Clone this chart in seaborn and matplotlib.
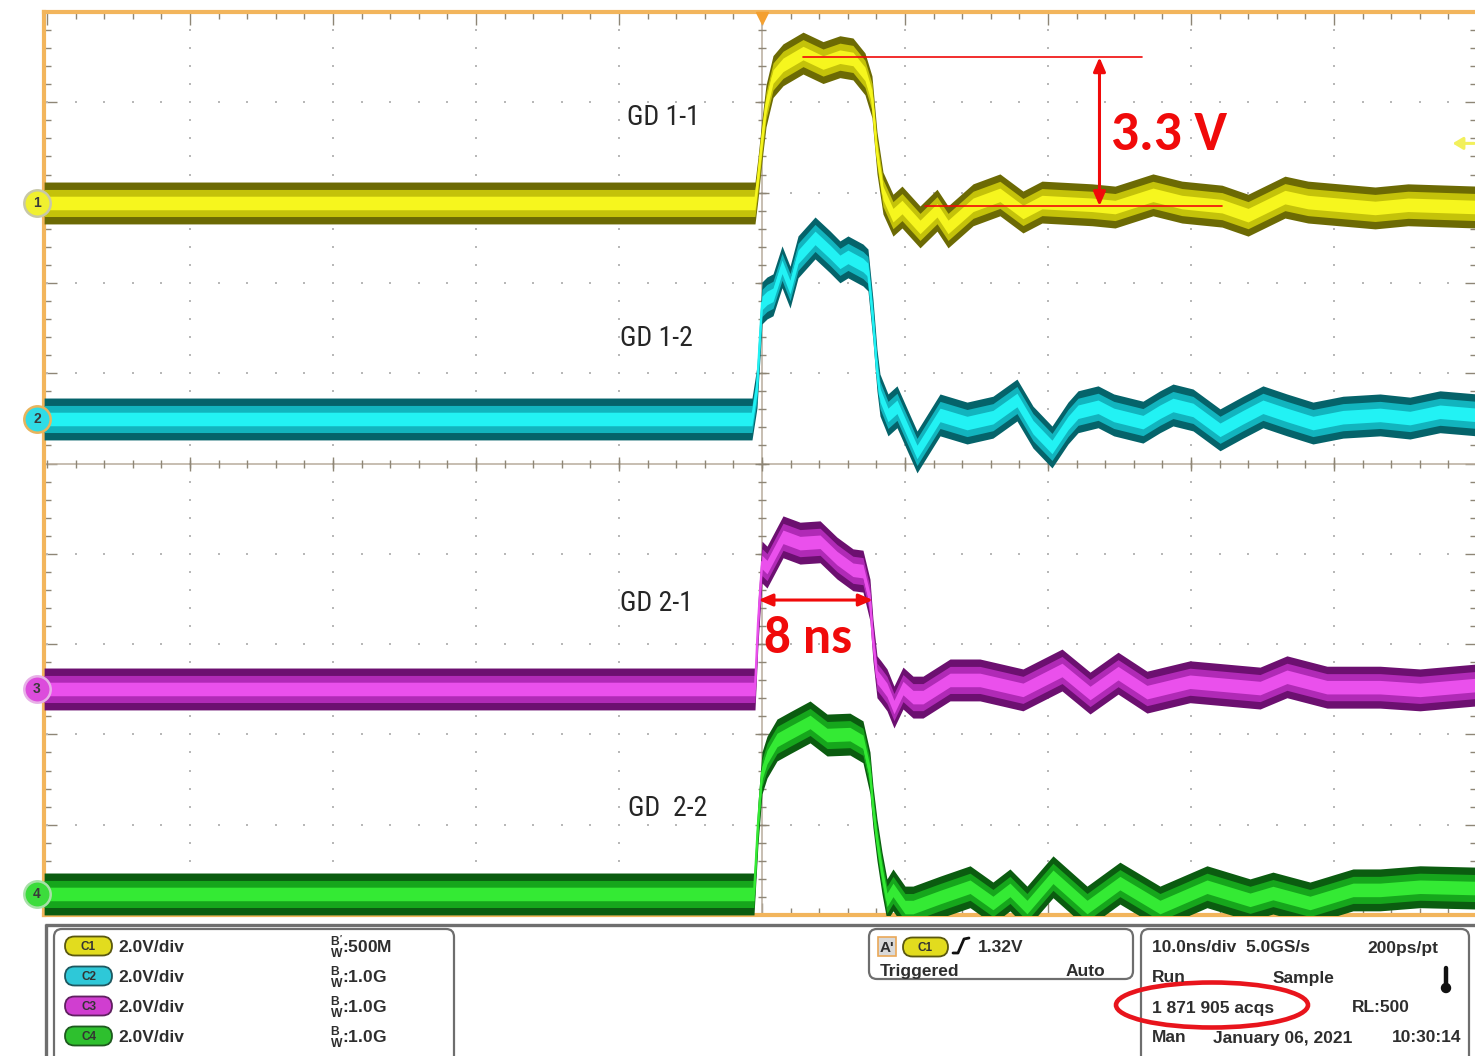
import numpy as np
import pandas as pd
import matplotlib
matplotlib.use("Agg")
import matplotlib.pyplot as plt
from matplotlib.font_manager import FontProperties, findfont
from matplotlib.patches import FancyBboxPatch, Ellipse, Circle
import seaborn as sns

# ---- four gate-drive channels: time in ns from trigger, level in volts above channel ground
ch1_t = [-50.2, -0.70, -0.49, -0.28, 0.0, 0.28, 0.77, 1.47, 2.87, 4.27, 5.45, 6.36, 7.20, 7.69,
         8.04, 8.46, 9.16, 9.79, 11.05, 12.24, 13.01, 14.76, 16.64, 18.25, 19.58, 23.08, 24.69,
         27.34, 29.37, 32.17, 33.99, 36.57, 38.18, 42.87, 45.17, 50.0]
ch1_v = [0.0, 0.0, 0.0, 0.55, 1.40, 2.15, 2.80, 3.06, 3.32, 3.11, 3.24, 3.19, 2.86, 2.35,
         1.11, 0.22, -0.27, -0.09, -0.53, -0.16, -0.53, -0.04, 0.18, -0.20, 0.02, -0.04, -0.09,
         0.18, 0.02, -0.07, -0.27, 0.13, 0.02, -0.11, -0.04, -0.09]

ch2_t = [-50.2, -0.70, -0.35, 0.0, 0.35, 0.77, 1.40, 1.96, 2.52, 3.71, 4.76, 5.45, 6.01, 7.06,
         7.41, 7.76, 8.04, 8.25, 8.81, 9.44, 10.84, 12.45, 14.34, 16.15, 17.83, 18.95, 20.28,
         21.40, 22.10, 23.50, 24.60, 26.64, 27.83, 28.74, 30.14, 32.03, 33.64, 35.03, 36.71,
         38.53, 40.63, 43.22, 45.31, 47.41, 50.0]
ch2_v = [0.0, 0.0, 0.71, 2.57, 2.68, 2.75, 3.37, 2.92, 3.59, 4.01, 3.70, 3.48, 3.59, 3.41,
         3.30, 2.19, 1.08, 0.53, 0.09, 0.27, -0.73, 0.09, -0.09, 0.04, 0.42, -0.18, -0.62,
         -0.09, 0.16, 0.27, 0.09, -0.07, 0.16, 0.31, 0.20, -0.24, 0.04, 0.27, 0.09,
         -0.09, 0.04, 0.09, 0.02, 0.16, 0.09]

ch3_t = [-50.2, -0.49, -0.28, 0.0, 0.35, 1.47, 2.66, 4.06, 5.24, 6.36, 7.06, 7.55, 7.76, 8.04,
         8.32, 8.74, 9.23, 9.86, 10.56, 11.26, 13.15, 15.24, 18.25, 20.98, 22.94, 24.90, 26.92,
         29.93, 34.83, 36.71, 39.51, 43.22, 46.01, 50.0]
ch3_v = [0.0, 0.0, 1.46, 2.81, 2.70, 3.37, 3.23, 3.26, 2.90, 2.64, 2.61, 1.97, 1.08, 0.27,
         0.16, -0.02, -0.40, 0.02, -0.18, -0.18, 0.20, 0.20, -0.02, 0.42, -0.09, 0.35, -0.07,
         0.16, 0.02, 0.27, 0.04, 0.04, -0.02, 0.09]

ch4_t = [-50.2, -0.56, -0.28, 0.0, 0.35, 1.05, 1.96, 3.36, 4.55, 6.15, 7.06, 7.55, 7.76, 8.04,
         8.39, 8.74, 9.16, 10.0, 10.56, 12.45, 14.55, 16.15, 17.34, 18.53, 20.35, 22.73, 25.03,
         27.83, 31.12, 34.13, 35.73, 38.32, 41.33, 43.22, 46.01, 50.0]
ch4_v = [0.0, 0.0, 1.57, 2.68, 3.03, 3.41, 3.57, 3.81, 3.52, 3.54, 3.37, 2.68, 1.93, 1.20,
         0.47, -0.13, 0.09, -0.29, -0.29, -0.07, 0.16, -0.20, 0.09, -0.29, 0.38, -0.29, 0.24,
         -0.29, 0.16, -0.13, 0.02, -0.20, 0.09, 0.09, 0.16, 0.13]

channel_names = ["C1", "C2", "C3", "C4"]
trace_labels = ["GD 1-1", "GD 1-2", "GD 2-1", "GD  2-2"]
channel_offsets_div = [2.885, 0.493, -2.497, -4.767]
channel_scale = ["2.0V/div", "2.0V/div", "2.0V/div", "2.0V/div"]
channel_bw = ["500M", "1.0G", "1.0G", "1.0G"]

VOLTS_PER_DIV = 2.0
trigger_level_v = 1.32
swing_v = 3.3
swing_base_v = -0.07
pulse_width_ns = 8.0
pulse_start_ns = -0.25

# ---- styling
sns.set_theme(style="white")


def pick_font(*names):
    for n in names:
        try:
            findfont(FontProperties(family=n), fallback_to_default=False)
            return n
        except Exception:
            pass
    return "DejaVu Sans"


UI_FONT = pick_font("Liberation Sans", "Arial", "DejaVu Sans")
LABEL_FONT = pick_font("Liberation Sans Narrow", "Roboto Condensed", "Liberation Sans")
LABEL_SIZE = 20 if LABEL_FONT in ("Liberation Sans Narrow", "Roboto Condensed") else 18
NOTE_FONT = pick_font("Carlito", "Lato", "Open Sans", "DejaVu Sans")
plt.rcParams["font.family"] = [UI_FONT, "DejaVu Sans"]
plt.rcParams["mathtext.fontset"] = "custom"
plt.rcParams["mathtext.rm"] = UI_FONT + ":bold"
plt.rcParams["mathtext.bf"] = UI_FONT + ":bold"

dark_cols = ["#6C6A04", "#05636A", "#6C1070", "#0B5C10"]
mid_cols = ["#C4C20A", "#12B4BE", "#B02AB6", "#16A61C"]
core_cols = ["#F6F61E", "#22F2F4", "#EA50EC", "#34EA34"]
badge_cols = ["#F0F030", "#30DCE6", "#DC4CDC", "#3CDC3C"]
badge_edges = ["#C8C8A8", "#E8B45C", "#E8B0E8", "#A8E0A8"]
pill_cols = ["#E2DC1E", "#2EC8D8", "#D03ED0", "#2EC02E"]
pill_edges = ["#5A5810", "#1E5860", "#602060", "#1E5A1E"]
FRAME = "#F2B55C"
TICK = "#8E8676"
RED = "#F00A0A"

W, H = 1475, 1056
fig = plt.figure(figsize=(W / 100, H / 100), dpi=100)
fig.patch.set_facecolor("white")

# graticule axes: x in ns (10 ns/div), y in divisions
ax = fig.add_axes([44 / W, (H - 915) / H, 1433 / W, 903 / H])
ax.set_facecolor("white")
ax.set_xlim(-50.21, 50.0)
ax.set_ylim(-5, 5)

ax.set_xticks(np.arange(-50, 51, 10))
ax.set_xticks(np.arange(-50, 50.1, 2), minor=True)
ax.set_yticks(np.arange(-5, 5.1, 1))
ax.set_yticks(np.arange(-5, 5.01, 0.2), minor=True)
ax.tick_params(which="both", direction="in", top=True, right=True, bottom=True, left=True,
               labelbottom=False, labelleft=False, color=TICK, width=1.0)
ax.tick_params(which="major", length=9)
ax.tick_params(which="minor", length=5)
for s in ax.spines.values():
    s.set_color(FRAME)
    s.set_linewidth(3)

# dotted graticule
dot_kw = dict(s=2.4, color="#B8B8B8", marker="s", linewidths=0, zorder=1)
for gx in range(-40, 41, 10):
    if gx != 0:
        yy = np.arange(-5, 5.01, 0.2)
        ax.scatter(np.full_like(yy, gx), yy, **dot_kw)
for gy in range(-4, 5):
    if gy != 0:
        xx = np.arange(-50, 50.1, 2)
        ax.scatter(xx, np.full_like(xx, gy), **dot_kw)

# centre cross with tick marks
ax.axhline(0, color="#B8AC9C", lw=1.1, zorder=1.5)
ax.axvline(0, color="#B8AC9C", lw=1.1, zorder=1.5)
xm = np.arange(-50, 50.1, 2)
ax.plot(xm, np.zeros_like(xm), ls="none", marker="|", ms=5.5, mew=1.0, color=TICK, zorder=1.6)
xM = np.arange(-40, 41, 10)
ax.plot(xM, np.zeros_like(xM), ls="none", marker="|", ms=10, mew=1.0, color=TICK, zorder=1.6)
ym = np.arange(-5, 5.01, 0.2)
ax.plot(np.zeros_like(ym), ym, ls="none", marker="_", ms=5.5, mew=1.0, color=TICK, zorder=1.6)
yM = np.arange(-4, 5, 1)
ax.plot(np.zeros_like(yM), yM, ls="none", marker="_", ms=10, mew=1.0, color=TICK, zorder=1.6)

# persistence bands for each channel
traces = [(ch1_t, ch1_v), (ch2_t, ch2_v), (ch3_t, ch3_v), (ch4_t, ch4_v)]
frames = []
for i, (t, v) in enumerate(traces):
    t = np.asarray(t, float)
    y = channel_offsets_div[i] + np.asarray(v, float) / VOLTS_PER_DIV
    ax.fill_between(t, y - 0.232, y + 0.232, color=dark_cols[i], lw=0, zorder=3 + i * 0.1)
    ax.fill_between(t, y - 0.15, y + 0.15, color=mid_cols[i], lw=0, zorder=3.02 + i * 0.1)
    ax.fill_between(t, y - 0.075, y + 0.075, color=core_cols[i], lw=0, zorder=3.04 + i * 0.1)
    frames.append(pd.DataFrame({"t": t, "div": y, "ch": channel_names[i]}))
df = pd.concat(frames, ignore_index=True)
sns.lineplot(data=df, x="t", y="div", hue="ch", palette=dict(zip(channel_names, core_cols)),
             estimator=None, sort=False, lw=1.6, legend=False, ax=ax, zorder=3.5)
ax.set_xlabel("")
ax.set_ylabel("")

# channel ground badges on the left edge
ytrans = ax.get_yaxis_transform()
for i in range(4):
    ax.plot([-7 / 1433], [channel_offsets_div[i]], marker="o", ms=19, mfc=badge_cols[i],
            mec=badge_edges[i], mew=1.8, transform=ytrans, clip_on=False, zorder=10)
    ax.text(-7 / 1433, channel_offsets_div[i], str(i + 1), transform=ytrans, ha="center",
            va="center", fontsize=10, fontweight="bold", color="#3A3A3A", zorder=11, clip_on=False)

# trigger position and trigger level markers
ax.plot([0], [4.93], marker="v", ms=9, color="#F4A030", mec="#F4A030", clip_on=False, zorder=10)
trig_y = channel_offsets_div[0] + trigger_level_v / VOLTS_PER_DIV
ax.annotate("", xy=(48.1, trig_y), xytext=(50.0, trig_y),
            arrowprops=dict(arrowstyle="-|>,head_length=0.5,head_width=0.3", color="#F2F05C", lw=2.2),
            zorder=10, annotation_clip=False)

# 3.3 V swing measurement on GD 1-1
y_lo = channel_offsets_div[0] + swing_base_v / VOLTS_PER_DIV
y_hi = channel_offsets_div[0] + (swing_base_v + swing_v) / VOLTS_PER_DIV
ax.plot([2.87, 26.6], [y_hi, y_hi], color=RED, lw=1.2, zorder=6)
ax.plot([11.4, 32.2], [y_lo, y_lo], color=RED, lw=1.2, zorder=6)
ax.annotate("", xy=(23.6, y_hi), xytext=(23.6, y_lo),
            arrowprops=dict(arrowstyle="<|-|>,head_length=0.7,head_width=0.3", color=RED, lw=2.2,
                            shrinkA=0, shrinkB=0), zorder=6)

# 8 ns pulse width on GD 2-1
y_w = -1.512
ax.annotate("", xy=(pulse_start_ns, y_w), xytext=(pulse_start_ns + pulse_width_ns, y_w),
            arrowprops=dict(arrowstyle="<|-|>,head_length=0.7,head_width=0.3", color=RED, lw=2.2,
                            shrinkA=0, shrinkB=0), zorder=6)

# ---- overlay in pixel units for labels and the status panel
ov = fig.add_axes([0, 0, 1, 1], zorder=5)
ov.set_xlim(0, W)
ov.set_ylim(H, 0)
ov.axis("off")
ov.patch.set_alpha(0)

label_pos = [(627, 125), (620, 346), (620, 611), (628, 816)]
for lab, (x, y) in zip(trace_labels, label_pos):
    ov.text(x, y, lab, family=[LABEL_FONT, "DejaVu Sans"], fontsize=LABEL_SIZE, color="#262626",
            ha="left", va="baseline")

ov.text(1111, 150, f"{swing_v:.1f} V", family=[NOTE_FONT, "DejaVu Sans"], fontweight="bold",
        fontsize=40, color=RED, ha="left", va="baseline")
ov.text(764, 653, f"{pulse_width_ns:.0f} ns", family=[NOTE_FONT, "DejaVu Sans"], fontweight="bold",
        fontsize=38, color=RED, ha="left", va="baseline")

PANEL = "#6E6E6E"
TXT = "#2E2E2E"
ov.plot([45, W], [924.5, 924.5], color=PANEL, lw=2.4, solid_capstyle="butt")
ov.plot([45.5, 45.5], [924, H], color=PANEL, lw=2.4, solid_capstyle="butt")


def box(x, y, w, h):
    ov.add_patch(FancyBboxPatch((x, y), w, h, boxstyle="round,pad=0,rounding_size=8",
                                fc="white", ec=PANEL, lw=1.6))


def pill(x, yc, w, h, fc, ec, label):
    ov.add_patch(FancyBboxPatch((x, yc - h / 2), w, h,
                                boxstyle=f"round,pad=0,rounding_size={h / 2}",
                                fc=fc, ec=ec, lw=1.3))
    ov.text(x + w / 2, yc + 4, label, ha="center", va="baseline", fontsize=8.5,
            fontweight="bold", color="#333333")


def ui(x, y, s, **kw):
    ov.text(x, y, s, ha="left", va="baseline", fontsize=12.5, fontweight="bold", color=TXT, **kw)


box(54, 929, 400, 140)
box(869, 929, 264, 50)
box(1141, 929, 328, 140)

rows = [946, 976, 1006, 1036]
for i, yc in enumerate(rows):
    pill(65, yc, 47, 19, pill_cols[i], pill_edges[i], channel_names[i])
    ui(118, yc + 6.5, channel_scale[i])
    bw_mark = r"${}^{\mathrm{B'}}_{\mathrm{W}}$" if i == 0 else r"${}^{\mathrm{B}}_{\mathrm{W}}$"
    ui(330, yc + 6.5, bw_mark + ":" + channel_bw[i])

# trigger box
ov.add_patch(FancyBboxPatch((878, 937), 18, 19, boxstyle="square,pad=0", fc="#D9D9D9",
                            ec="#EAA858", lw=1.2))
ov.text(880, 952, "A'", ha="left", va="baseline", fontsize=11, fontweight="bold", color=TXT)
pill(903, 947, 45, 19, pill_cols[0], pill_edges[0], "C1")
ov.plot([953, 958, 964, 969], [953, 953, 939, 938], color="#111111", lw=2.0,
        solid_capstyle="round")
ui(978, 952, f"{trigger_level_v:.2f}V")
ui(880, 976, "Triggered")
ui(1066, 976, "Auto")

# acquisition box
ui(1152, 952.5, "10.0ns/div  5.0GS/s")
ui(1367, 952.5, "200ps/pt")
ui(1152, 982.5, "Run")
ui(1273, 982.5, "Sample")
ov.plot([1446, 1446], [968, 985], color="#111111", lw=3.2, solid_capstyle="round")
ov.add_patch(Circle((1446, 988), 4.5, color="#111111"))
ui(1152, 1012.5, "1 871 905 acqs")
ui(1352, 1012.5, "RL:500")
ui(1152, 1042.5, "Man")
ui(1213, 1042.5, "January 06, 2021")
ui(1392, 1042.5, "10:30:14")

ov.add_patch(Ellipse((1212, 1005), 192, 45, fill=False, ec="#E8141C", lw=3.3))

fig.savefig("out.png", dpi=100, facecolor="white")
